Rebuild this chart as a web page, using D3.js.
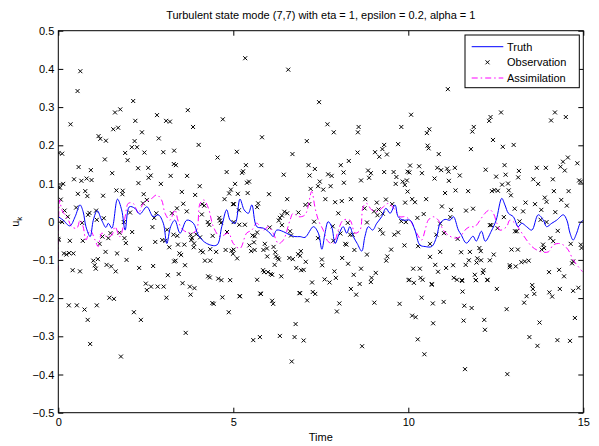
<!DOCTYPE html>
<html><head><meta charset="utf-8">
<script src="https://cdn.jsdelivr.net/npm/d3@7"></script>
<style>body{margin:0;background:#fff}svg{display:block}text{font-family:"Liberation Sans",Arial,sans-serif;font-size:11px;fill:#000}</style>
</head><body><svg id="c" width="599" height="446"></svg>
<script>
const titleText = "Turbulent state mode (7,7) with eta = 1, epsilon = 0.2, alpha = 1";
const xTicks = [0,5,10,15];
const yTicks = [-0.5,-0.4,-0.3,-0.2,-0.1,0,0.1,0.2,0.3,0.4,0.5];
const legendLabels = ["Truth","Observation","Assimilation"];

const truth = [[0.00,0.013],[0.14,0.004],[0.33,-0.011],[0.48,0.013],[0.62,0.044],[0.71,0.026],[0.79,-0.013],[0.91,-0.039],[1.00,0.004],[1.11,0.029],[1.24,0.004],[1.36,-0.015],[1.43,-0.004],[1.53,-0.017],[1.69,0.059],[1.81,0.031],[1.91,-0.022],[2.03,0.039],[2.19,0.035],[2.33,0.020],[2.53,0.039],[2.71,0.013],[2.86,0.018],[3.00,-0.004],[3.10,-0.057],[3.21,-0.013],[3.33,0.004],[3.48,-0.030],[3.67,0.004],[3.86,-0.004],[4.00,-0.035],[4.24,-0.057],[4.53,-0.061],[4.67,-0.013],[4.81,0.031],[4.91,0.004],[5.05,-0.004],[5.19,0.059],[5.31,0.031],[5.43,0.022],[5.53,0.044],[5.67,-0.013],[5.86,-0.017],[6.05,-0.030],[6.14,-0.039],[6.24,-0.022],[6.43,-0.026],[6.62,-0.035],[6.76,-0.039],[6.91,-0.039],[7.05,-0.041],[7.29,-0.013],[7.43,-0.030],[7.53,-0.072],[7.62,-0.030],[7.71,0.000],[7.81,-0.013],[7.91,-0.057],[8.03,-0.030],[8.14,-0.013],[8.24,-0.030],[8.33,-0.013],[8.43,-0.039],[8.54,-0.057],[8.67,-0.077],[8.76,-0.039],[8.86,-0.013],[8.98,-0.022],[9.10,-0.004],[9.24,0.013],[9.36,0.035],[9.48,0.022],[9.62,0.044],[9.71,0.013],[9.86,0.004],[10.05,0.004],[10.19,-0.022],[10.33,-0.061],[10.48,-0.065],[10.67,-0.065],[10.81,-0.039],[10.91,-0.004],[11.05,0.006],[11.19,0.004],[11.29,0.013],[11.43,-0.022],[11.51,-0.034],[11.66,-0.056],[11.85,-0.038],[11.94,-0.051],[12.09,-0.025],[12.20,-0.051],[12.37,-0.025],[12.51,0.004],[12.67,0.061],[12.76,0.044],[12.86,0.022],[13.00,0.013],[13.14,-0.013],[13.24,-0.004],[13.38,-0.013],[13.53,-0.022],[13.71,0.018],[13.86,0.004],[13.95,-0.013],[14.10,-0.004],[14.24,0.004],[14.43,0.018],[14.53,0.004],[14.62,-0.030],[14.71,-0.048],[14.81,-0.030],[14.91,-0.004],[15.00,0.004]];

const assimilation = [[0.00,-0.13],[0.04,0.057],[0.10,0.031],[0.19,0.018],[0.29,0.004],[0.38,-0.013],[0.53,-0.017],[0.62,0.004],[0.71,-0.013],[0.79,-0.048],[0.91,-0.022],[1.05,-0.048],[1.14,-0.065],[1.24,-0.030],[1.38,-0.039],[1.53,-0.035],[1.62,-0.013],[1.76,-0.039],[1.91,0.013],[2.00,0.048],[2.14,0.048],[2.29,0.022],[2.43,0.048],[2.67,0.061],[2.81,0.070],[2.95,0.057],[3.05,0.022],[3.19,0.004],[3.33,0.031],[3.43,0.000],[3.57,-0.022],[3.81,-0.030],[3.95,-0.022],[4.05,0.048],[4.16,0.057],[4.29,0.035],[4.43,-0.013],[4.62,-0.039],[4.86,-0.030],[5.00,-0.057],[5.19,-0.070],[5.38,-0.030],[5.53,-0.022],[5.67,-0.004],[5.86,-0.022],[6.00,-0.013],[6.14,-0.030],[6.29,-0.057],[6.43,-0.048],[6.62,0.004],[6.71,0.022],[6.86,0.013],[7.05,0.018],[7.24,0.079],[7.33,0.039],[7.43,0.004],[7.57,-0.022],[7.71,-0.052],[7.86,-0.057],[8.00,-0.022],[8.14,0.004],[8.33,0.004],[8.48,-0.030],[8.62,-0.022],[8.71,0.039],[8.81,0.048],[8.95,0.031],[9.10,0.026],[9.29,0.039],[9.43,0.048],[9.62,0.031],[9.76,0.013],[9.91,0.013],[10.05,0.004],[10.24,-0.030],[10.38,-0.048],[10.48,-0.022],[10.57,0.004],[10.71,0.013],[10.86,0.004],[11.00,-0.022],[11.14,-0.035],[11.33,-0.043],[11.48,-0.039],[11.62,-0.022],[11.76,-0.013],[11.90,-0.013],[12.05,0.004],[12.19,0.022],[12.33,0.031],[12.43,0.022],[12.53,-0.004],[12.62,-0.022],[12.81,-0.013],[12.90,0.004],[13.05,-0.004],[13.19,-0.022],[13.38,-0.048],[13.53,-0.065],[13.67,-0.074],[13.81,-0.079],[14.00,-0.079],[14.14,-0.061],[14.29,-0.057],[14.43,-0.061],[14.57,-0.074],[14.71,-0.100],[14.86,-0.118],[14.98,-0.131]];

const observations = [[0.55,0.342],[0.63,0.394],[5.34,0.428],[6.57,0.398],[7.45,0.313],[11.13,0.347],[10.08,0.280],[12.35,0.274],[12.65,0.286],[14.19,0.286],[14.50,0.274],[14.08,0.265],[12.31,0.264],
[2.14,0.316],[1.77,0.294],[1.62,0.286],[3.70,0.292],[2.82,0.279],[0.35,0.255],[2.20,0.264],[3.08,0.264],[3.19,0.262],[4.70,0.268],[1.71,0.246],[1.57,0.242],[3.85,0.248],[2.39,0.234],[1.15,0.224],[1.20,0.217],[1.36,0.212],[2.87,0.218],[2.18,0.211],[4.01,0.201],[2.10,0.195],[2.25,0.195],[0.11,0.178],[1.91,0.180],[2.46,0.181],[3.00,0.182],[3.31,0.186],[4.55,0.168],[1.33,0.163],[1.98,0.161],[3.30,0.151],[3.36,0.148],[0.58,0.143],[0.93,0.135],[2.28,0.140],[2.57,0.141],[1.54,0.127],[2.64,0.121],[2.58,0.115],[3.21,0.120],[3.68,0.120],[4.81,0.130],[0.45,0.111],[0.66,0.107],[0.81,0.113],[0.95,0.109],[2.29,0.101],[2.93,0.099],[4.04,0.093],[0.14,0.099],[0.05,0.089],[4.93,0.084],[4.88,0.074],[0.77,0.080],[0.56,0.073],[1.66,0.082],[1.84,0.081],[1.83,0.072],[1.28,0.068],[2.44,0.072],[3.53,0.078],[3.91,0.070],[0.83,0.067],[0.07,0.058],[4.75,0.059],[2.42,0.048],[2.53,0.057],[3.57,0.047],[4.11,0.046],[4.17,0.042],[0.51,0.037],[0.18,0.029],[0.89,0.023],[1.08,0.029],[3.39,0.035],[3.67,0.027],[2.05,0.024],[2.80,0.022],[3.25,0.022],[4.10,0.019],[4.99,0.046],[0.27,0.013],[1.30,0.009],[0.85,0.018],[4.60,0.010],[0.01,0.180],[0.0,0.09],[0.0,-0.045],
[7.69,0.255],[8.58,0.248],[8.56,0.234],[9.80,0.248],[7.87,0.234],[5.82,0.221],[7.10,0.211],[5.10,0.183],[6.69,0.177],[8.55,0.181],[9.31,0.201],[9.26,0.190],[9.05,0.182],[9.39,0.176],[9.17,0.170],[9.71,0.203],[5.36,0.148],[5.80,0.148],[7.15,0.148],[7.33,0.138],[8.07,0.148],[8.30,0.159],[5.28,0.132],[5.25,0.128],[6.44,0.123],[7.18,0.121],[7.71,0.124],[7.81,0.120],[8.15,0.129],[8.85,0.134],[8.93,0.127],[8.88,0.115],[8.65,0.108],[9.31,0.130],[9.58,0.130],[9.66,0.117],[9.98,0.131],[9.96,0.108],[9.84,0.105],[9.90,0.096],[9.64,0.099],[5.05,0.099],[5.45,0.105],[5.39,0.102],[7.47,0.105],[7.42,0.093],[7.78,0.093],[7.21,0.086],[7.57,0.084],[8.16,0.102],[5.13,0.073],[5.41,0.075],[6.02,0.072],[9.98,0.079],[6.54,0.059],[7.63,0.059],[7.91,0.051],[8.10,0.054],[8.36,0.059],[8.77,0.059],[9.10,0.050],[9.36,0.058],[9.54,0.046],[9.91,0.050],[5.02,0.046],[5.71,0.048],[5.68,0.038],[7.06,0.044],[7.17,0.046],[5.16,0.030],[6.46,0.026],[6.54,0.022],[6.39,0.016],[6.33,0.010],[6.86,0.024],[8.00,0.022],[8.75,0.035],[9.02,0.027],[9.15,0.032],[9.12,0.017],[9.27,0.021],
[10.60,0.242],[10.53,0.232],[11.87,0.248],[11.83,0.236],[12.42,0.214],[10.55,0.199],[10.58,0.192],[11.79,0.190],[12.70,0.196],[13.01,0.201],[10.87,0.177],[14.42,0.157],[14.56,0.168],[14.35,0.144],[14.47,0.134],[14.83,0.153],[10.05,0.147],[10.31,0.145],[10.83,0.141],[10.94,0.135],[11.11,0.139],[11.15,0.131],[11.33,0.141],[12.21,0.136],[12.75,0.148],[13.16,0.133],[13.67,0.141],[13.93,0.141],[10.03,0.129],[10.39,0.127],[11.47,0.121],[10.75,0.113],[11.16,0.107],[12.51,0.118],[12.78,0.123],[13.14,0.116],[13.57,0.111],[13.71,0.099],[14.13,0.111],[14.88,0.108],[14.93,0.105],[12.68,0.097],[12.85,0.100],[11.05,0.075],[11.35,0.082],[11.71,0.080],[12.46,0.083],[12.39,0.080],[12.56,0.081],[12.87,0.082],[12.93,0.069],[14.16,0.080],[14.58,0.080],[10.11,0.059],[10.19,0.051],[10.51,0.059],[13.35,0.050],[13.62,0.046],[13.90,0.063],[13.95,0.052],[14.37,0.057],[14.53,0.042],[10.96,0.040],[11.22,0.031],[11.65,0.029],[11.85,0.034],[13.04,0.034],[13.28,0.027],[13.80,0.031],[14.20,0.025],[10.44,0.020],[10.26,0.010],[11.20,0.012],[12.73,0.012],
[0.11,-0.001],[0.68,-0.003],[1.10,0.005],[1.87,-0.001],[2.74,0.010],[2.69,-0.014],[1.49,-0.030],[1.75,-0.029],[2.11,-0.027],[1.26,-0.039],[1.43,-0.043],[1.89,-0.043],[3.11,-0.021],[3.29,-0.034],[3.40,-0.037],[4.27,-0.001],[4.31,-0.008],[4.62,0.003],[4.65,-0.003],[3.78,-0.034],[3.82,-0.043],[3.94,-0.033],[4.05,-0.041],[4.41,-0.037],[4.82,-0.027],[0.01,-0.048],[0.33,-0.050],[0.70,-0.050],[1.18,-0.058],[1.93,-0.056],[2.77,-0.053],[2.97,-0.048],[3.06,-0.050],[3.80,-0.048],[3.88,-0.057],[3.17,-0.067],[3.42,-0.060],[3.60,-0.060],[3.87,-0.067],[2.34,-0.071],[1.35,-0.079],[1.68,-0.083],[4.07,-0.076],[4.13,-0.080],[4.34,-0.072],[4.51,-0.079],[4.78,-0.074],[4.95,-0.076],[0.16,-0.083],[0.23,-0.086],[0.31,-0.082],[0.43,-0.083],[3.46,-0.083],[3.51,-0.087],[1.00,-0.102],[1.13,-0.098],[1.95,-0.100],[1.04,-0.114],[1.07,-0.123],[1.38,-0.113],[1.51,-0.117],[1.64,-0.130],[3.31,-0.104],[3.35,-0.102],[3.62,-0.114],[4.19,-0.102],[4.34,-0.102],[2.71,-0.116],[2.31,-0.121],[0.41,-0.127],[0.62,-0.130],[3.13,-0.140],[3.44,-0.137],[4.28,-0.143],[4.33,-0.146],[4.57,-0.149],[4.66,-0.153],[4.91,-0.153],[2.50,-0.162],[2.53,-0.179],[2.65,-0.170],[2.84,-0.170],[3.01,-0.170],[3.55,-0.161],[3.76,-0.170],[3.89,-0.174],[3.78,-0.191],[1.46,-0.199],[1.59,-0.202],[3.09,-0.199],[4.69,-0.198],[0.30,-0.219],[0.53,-0.219],[1.10,-0.219],[0.75,-0.230],[4.40,-0.213],[4.44,-0.215],[2.16,-0.237],[4.87,-0.237],[0.84,-0.257],[2.36,-0.257],[3.64,-0.291],[0.91,-0.320],[1.79,-0.353],
[5.57,-0.310],[5.76,-0.302],[6.33,-0.299],[6.75,-0.302],[6.78,-0.268],[6.67,-0.366],[6.89,-0.187],[5.79,-0.189],[6.11,-0.207],[6.14,-0.215],[5.19,-0.195],
[7.31,0.000],[8.27,-0.003],[7.84,-0.012],[8.34,-0.034],[8.41,-0.034],[8.06,-0.031],[7.86,-0.050],[8.82,-0.002],[9.20,-0.021],[9.27,-0.031],[9.60,-0.034],[9.71,-0.028],[9.80,0.001],[9.93,-0.001],[9.89,-0.062],[9.51,-0.073],[9.40,-0.091],[9.37,-0.102],[8.82,-0.086],[8.46,-0.074],[8.20,-0.058],[8.23,-0.060],[7.42,-0.043],[6.62,-0.025],[6.65,-0.036],[6.39,-0.009],[6.30,0.003],[6.04,-0.015],[5.17,-0.008],[5.33,-0.008],[5.01,-0.001],[5.68,-0.028],[5.55,-0.036],[5.61,-0.038],[5.59,-0.054],[5.46,-0.062],[5.90,-0.058],[6.15,-0.066],[5.86,-0.074],[5.96,-0.070],[5.51,-0.077],[5.61,-0.074],[5.01,-0.073],[4.99,-0.084],[5.11,-0.096],[6.20,-0.080],[6.22,-0.091],[5.97,-0.091],[6.27,-0.095],[6.30,-0.099],[6.60,-0.095],[6.70,-0.098],[6.85,-0.085],[6.93,-0.077],[6.91,-0.089],[7.07,-0.105],[6.18,-0.113],[7.53,-0.099],[7.54,-0.114],[8.11,-0.095],[8.28,-0.110],[8.65,-0.123],[9.07,-0.134],[5.85,-0.127],[5.88,-0.132],[5.99,-0.132],[6.07,-0.137],[6.11,-0.139],[6.37,-0.143],[6.80,-0.121],[6.94,-0.127],[7.01,-0.126],[7.89,-0.130],[7.93,-0.147],[8.44,-0.139],[8.95,-0.147],[8.93,-0.158],[8.61,-0.163],[7.61,-0.151],[7.75,-0.159],[7.25,-0.159],[10.01,-0.153],[5.68,-0.152],[8.36,-0.176],[8.51,-0.191],[6.91,-0.187],[7.27,-0.184],[7.34,-0.189],[7.11,-0.206],[5.77,-0.188],[5.18,-0.195],[8.03,-0.214],[9.03,-0.212],[9.75,-0.215],[7.96,-0.235],[7.01,-0.311],
[8.68,-0.326],[10.27,-0.308],[10.46,-0.347],[11.62,-0.386],[12.83,-0.399],[13.46,-0.302],[13.69,-0.325],[14.26,-0.310],[14.62,-0.312],[13.75,-0.264],[14.76,-0.252],[11.58,-0.259],[12.17,-0.257],[12.19,-0.283],[10.11,-0.246],[10.21,-0.250],[10.71,-0.266],[10.38,-0.199],[10.70,-0.214],[11.01,-0.210],[11.60,-0.220],[11.81,-0.226],[12.81,-0.229],[11.55,-0.183],[12.53,-0.176],[13.31,-0.212],[13.38,-0.195],[13.54,-0.166],[13.56,-0.176],[13.60,-0.189],[14.03,-0.185],[14.11,-0.196],[14.33,-0.176],[14.71,-0.181],[14.86,-0.173],[10.67,-0.163],[11.54,-0.155],[11.93,-0.153],[12.26,-0.153],
[10.91,-0.005],[12.33,-0.009],[12.37,-0.009],[13.18,0.001],[13.78,0.005],[13.95,-0.001],[12.55,-0.017],[13.05,-0.025],[13.10,-0.025],[10.80,-0.034],[11.02,-0.030],[11.41,-0.045],[14.27,-0.024],[10.62,-0.058],[10.28,-0.064],[14.06,-0.043],[14.14,-0.051],[14.64,-0.058],[14.93,-0.060],[14.95,-0.069],[13.85,-0.060],[13.81,-0.073],[13.88,-0.069],[12.95,-0.073],[13.13,-0.073],[10.91,-0.079],[11.51,-0.080],[11.76,-0.079],[12.03,-0.069],[12.07,-0.077],[10.62,-0.092],[12.44,-0.086],[11.97,-0.096],[11.95,-0.107],[12.08,-0.101],[12.33,-0.101],[11.73,-0.101],[13.23,-0.106],[13.33,-0.104],[13.44,-0.102],[12.90,-0.114],[12.90,-0.119],[13.07,-0.117],[10.77,-0.113],[11.08,-0.121],[11.28,-0.114],[11.64,-0.113],[12.15,-0.127],[12.13,-0.134],[10.85,-0.131],[10.14,-0.123],[10.33,-0.123],[14.02,-0.132],[14.31,-0.126],[14.45,-0.143],[14.71,-0.104],[14.68,-0.109],[11.90,-0.139],[11.93,-0.153],[12.26,-0.152],[11.30,-0.147],[11.39,-0.152],[11.53,-0.153],[10.03,-0.152],[10.16,-0.160],[10.35,-0.147],[10.41,-0.152],[10.67,-0.165]];

const svg = d3.select("#c");
const L = 58.3, R = 583.3, T = 30.7, B = 412.7;
const x = d3.scaleLinear().domain([0,15]).range([L,R]);
const y = d3.scaleLinear().domain([-0.5,0.5]).range([B,T]);

svg.append("rect").attr("x",L).attr("y",T).attr("width",R-L).attr("height",B-T).attr("fill","#fff");

svg.append("defs").append("clipPath").attr("id","clp").append("rect")
  .attr("x",L).attr("y",T).attr("width",R-L).attr("height",B-T);
const plot = svg.append("g").attr("clip-path","url(#clp)");

const mk = 2;
plot.append("g").selectAll("path").data(observations).join("path")
  .attr("d", d => { const px=x(d[0]), py=y(d[1]); return `M${px-mk},${py-mk}L${px+mk},${py+mk}M${px-mk},${py+mk}L${px+mk},${py-mk}`; })
  .attr("stroke","#000").attr("stroke-width",1).attr("fill","none");

const line = d3.line().x(d=>x(d[0])).y(d=>y(d[1])).curve(d3.curveCatmullRom.alpha(0.5));
plot.append("path").datum(assimilation).attr("d",line).attr("fill","none")
  .attr("stroke","#ff00ff").attr("stroke-width",1).attr("stroke-dasharray","6,3,1.5,3");
plot.append("path").datum(truth).attr("d",line).attr("fill","none")
  .attr("stroke","#0000ff").attr("stroke-width",1);

const tl = 5;
const fmtY = d => d === 0 ? "0" : d3.format(".1f")(d);
const gB = svg.append("g").attr("transform",`translate(0,${B})`)
  .call(d3.axisBottom(x).tickValues(xTicks).tickSize(-tl).tickPadding(6).tickFormat(d3.format("d")));
const gT = svg.append("g").attr("transform",`translate(0,${T})`)
  .call(d3.axisTop(x).tickValues(xTicks).tickSize(-tl).tickFormat(""));
const gL = svg.append("g").attr("transform",`translate(${L},0)`)
  .call(d3.axisLeft(y).tickValues(yTicks).tickSize(-tl).tickPadding(4).tickFormat(fmtY));
const gR = svg.append("g").attr("transform",`translate(${R},0)`)
  .call(d3.axisRight(y).tickValues(yTicks).tickSize(-tl).tickFormat(""));
[gB,gT,gL,gR].forEach(g=>{
  g.select(".domain").remove();
  g.selectAll("line").attr("stroke","#000").attr("stroke-width",1);
  g.selectAll("text").attr("fill","#000").style("font-family","'Liberation Sans',Arial,sans-serif").style("font-size","11px");
});
gL.selectAll(".tick text").attr("x",-4);
svg.append("rect").attr("x",L).attr("y",T).attr("width",R-L).attr("height",B-T)
  .attr("fill","none").attr("stroke","#000").attr("stroke-width",1);

svg.append("text").attr("x",(L+R)/2).attr("y",19).attr("text-anchor","middle").text(titleText);
svg.append("text").attr("x",(L+R)/2).attr("y",441).attr("text-anchor","middle").text("Time");
const yl = svg.append("text").attr("transform",`translate(19,${(T+B)/2}) rotate(-90)`).attr("text-anchor","middle");
yl.append("tspan").text("u");
yl.append("tspan").attr("dy",3).style("font-size","8px").text("k");

const lg = svg.append("g");
lg.append("rect").attr("x",465).attr("y",35).attr("width",114.3).attr("height",52.7)
  .attr("fill","#fff").attr("stroke","#000").attr("stroke-width",1);
const rows = [46.7,62.3,78];
lg.append("line").attr("x1",471.7).attr("x2",503.3).attr("y1",rows[0]).attr("y2",rows[0]).attr("stroke","#0000ff").attr("stroke-width",1);
lg.append("path").attr("d",`M${487.5-mk},${rows[1]-mk}L${487.5+mk},${rows[1]+mk}M${487.5-mk},${rows[1]+mk}L${487.5+mk},${rows[1]-mk}`).attr("stroke","#000").attr("stroke-width",1);
lg.append("line").attr("x1",471.7).attr("x2",503.3).attr("y1",rows[2]).attr("y2",rows[2]).attr("stroke","#ff00ff").attr("stroke-width",1).attr("stroke-dasharray","6,3,1.5,3");
legendLabels.forEach((s,i)=>{
  lg.append("text").attr("x",507).attr("y",rows[i]+4).text(s);
});
</script></body></html>
